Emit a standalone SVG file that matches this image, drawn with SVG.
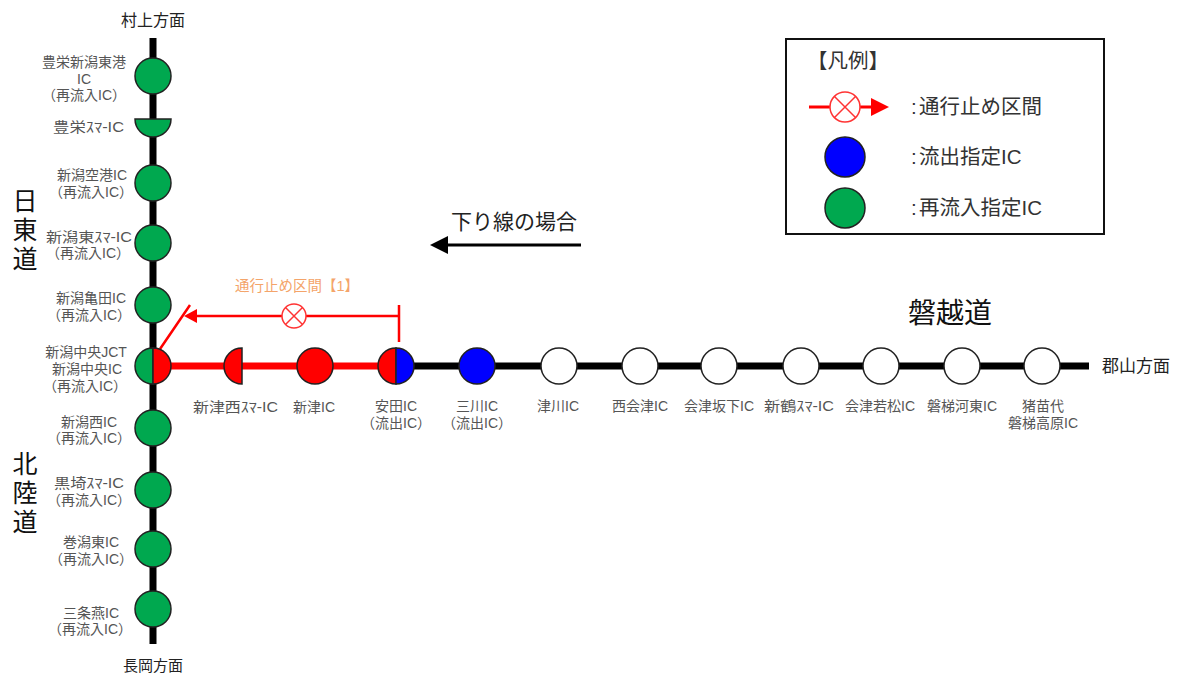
<svg xmlns="http://www.w3.org/2000/svg" width="1181" height="673" viewBox="0 0 1181 673">
<style>
text{font-family:"Liberation Sans","Noto Sans CJK JP",sans-serif;fill:#555;font-size:14px;text-anchor:middle}
.d{fill:#222}
.t{fill:#111;font-size:25px;writing-mode:vertical-rl;text-anchor:start;letter-spacing:4px}
.l{fill:#333;font-size:20.500px;text-anchor:start}
.n{stroke:#222;stroke-width:1.5}
.g{fill:#00a84f}.r{fill:#f00}.b{fill:#00f}.w{fill:#fff}
.x{fill:#fff;stroke:#f33;stroke-width:1.5}
.xl{stroke:#f33;stroke-width:1.5}
</style>
<defs>
<circle id="c" r="18" class="n"/>
</defs>
<rect width="1181" height="673" fill="#fff"/>
<g id="connectors">
<path d="M153 38V644" stroke="#000" stroke-width="7" fill="none"/>
<path d="M396 366H1089" stroke="#000" stroke-width="7" fill="none"/>
<path d="M153 366H396" stroke="#f00" stroke-width="7" fill="none"/>
<path d="M160 349L190 305M399 305V342M399 316H197" stroke="#f00" stroke-width="2.500" fill="none"/>
<path d="M184 316L197 309V323Z" fill="#f00"/>
<path d="M448 245H581" stroke="#000" stroke-width="3" fill="none"/>
<path d="M430 245L448 236V254Z" fill="#000"/>
</g>
<g id="n1"><use href="#c" x="153" y="76" class="g"/><text><tspan x="84" y="67">豊栄新潟東港</tspan><tspan x="84" y="84">IC</tspan><tspan x="84" y="100">（再流入IC）</tspan></text></g>
<g id="n2"><path d="M135 119H171A18 18 0 0 1 135 119Z" class="n g"/><text x="88.500" y="132" textLength="71" lengthAdjust="spacingAndGlyphs">豊栄ｽﾏ-IC</text></g>
<g id="n3"><use href="#c" x="153" y="183" class="g"/><text><tspan x="92" y="180">新潟空港IC</tspan><tspan x="91" y="197">（再流入IC）</tspan></text></g>
<g id="n4"><use href="#c" x="153" y="243" class="g"/><text x="89" y="242" textLength="86" lengthAdjust="spacingAndGlyphs">新潟東ｽﾏ-IC</text><text x="88" y="258">（再流入IC）</text></g>
<g id="n5"><use href="#c" x="153" y="305" class="g"/><text><tspan x="91" y="303">新潟亀田IC</tspan><tspan x="89" y="320">（再流入IC）</tspan></text></g>
<g id="n6"><path d="M153 348A18 18 0 0 0 153 384Z" class="n g"/><path d="M153 348A18 18 0 0 1 153 384Z" class="n r"/><text><tspan x="86" y="357">新潟中央JCT</tspan><tspan x="87" y="374">新潟中央IC</tspan><tspan x="85" y="391">（再流入IC）</tspan></text></g>
<g id="n7"><use href="#c" x="153" y="428" class="g"/><text><tspan x="89" y="427">新潟西IC</tspan><tspan x="89" y="443">（再流入IC）</tspan></text></g>
<g id="n8"><use href="#c" x="153" y="490" class="g"/><text x="89" y="488" textLength="70" lengthAdjust="spacingAndGlyphs">黒埼ｽﾏ-IC</text><text x="89" y="505">（再流入IC）</text></g>
<g id="n9"><use href="#c" x="153" y="549" class="g"/><text><tspan x="91" y="547">巻潟東IC</tspan><tspan x="91" y="564">（再流入IC）</tspan></text></g>
<g id="n10"><use href="#c" x="153" y="609" class="g"/><text><tspan x="91" y="618">三条燕IC</tspan><tspan x="90" y="634">（再流入IC）</tspan></text></g>
<g id="n11"><path d="M242 348A18 18 0 0 0 242 384Z" class="n r"/><text x="235.500" y="412" textLength="85" lengthAdjust="spacingAndGlyphs">新津西ｽﾏ-IC</text></g>
<g id="n12"><use href="#c" x="315" y="366" class="r"/><text x="314" y="412">新津IC</text></g>
<g id="n13"><path d="M396 348A18 18 0 0 0 396 384Z" class="n r"/><path d="M396 348A18 18 0 0 1 396 384Z" class="n b"/><text><tspan x="396" y="411">安田IC</tspan><tspan x="396" y="428">（流出IC）</tspan></text></g>
<g id="n14"><use href="#c" x="477" y="366" class="b"/><text><tspan x="477" y="411">三川IC</tspan><tspan x="477" y="428">（流出IC）</tspan></text></g>
<g id="n15"><use href="#c" x="559" y="366" class="w"/><text x="558" y="411">津川IC</text></g>
<g id="n16"><use href="#c" x="640" y="366" class="w"/><text x="640" y="411">西会津IC</text></g>
<g id="n17"><use href="#c" x="719" y="366" class="w"/><text x="719" y="411">会津坂下IC</text></g>
<g id="n18"><use href="#c" x="801" y="366" class="w"/><text x="799" y="411" textLength="70" lengthAdjust="spacingAndGlyphs">新鶴ｽﾏ-IC</text></g>
<g id="n19"><use href="#c" x="881" y="366" class="w"/><text x="880" y="411">会津若松IC</text></g>
<g id="n20"><use href="#c" x="962" y="366" class="w"/><text x="962" y="411">磐梯河東IC</text></g>
<g id="n21"><use href="#c" x="1042" y="366" class="w"/><text><tspan x="1043" y="411">猪苗代</tspan><tspan x="1043" y="428">磐梯高原IC</tspan></text></g>
<g id="closure"><circle cx="294" cy="316" r="12" class="x"/><path d="M285.500 307.500L302.500 324.500M302.500 307.500L285.500 324.500" class="xl"/><text x="297" y="291" style="fill:#f4a46a;font-size:14.500px">通行止め区間【1】</text></g>
<g id="labels">
<text x="153" y="26" class="d" style="font-size:16px">村上方面</text>
<text x="153" y="671" class="d" style="font-size:15px">長岡方面</text>
<text x="1136" y="372" class="d" style="font-size:17px">郡山方面</text>
<text x="23" y="188" class="t">日東道</text>
<text x="23" y="451" class="t">北陸道</text>
<text x="950" y="323" style="fill:#111;font-size:28px">磐越道</text>
<text x="514" y="229" style="fill:#222;font-size:21px">下り線の場合</text>
</g>
<g id="legend">
<rect x="786" y="39" width="318" height="195" fill="#fff" stroke="#111" stroke-width="2"/>
<text x="848" y="68" style="fill:#333;font-size:20.500px">【凡例】</text>
<path d="M809 107H873" stroke="#f00" stroke-width="3" fill="none"/>
<path d="M889 107L871 98V116Z" fill="#f00"/>
<circle cx="845" cy="107" r="15" class="x"/><path d="M834.500 96.500L855.500 117.500M855.500 96.500L834.500 117.500" class="xl"/>
<circle cx="845" cy="157" r="20" class="n b"/>
<circle cx="845" cy="208" r="20" class="n g"/>
<text x="911" y="114" class="l">:<tspan x="919">通行止め区間</tspan></text>
<text x="911" y="164" class="l">:<tspan x="919">流出指定IC</tspan></text>
<text x="911" y="215" class="l">:<tspan x="919">再流入指定IC</tspan></text>
</g>
</svg>
